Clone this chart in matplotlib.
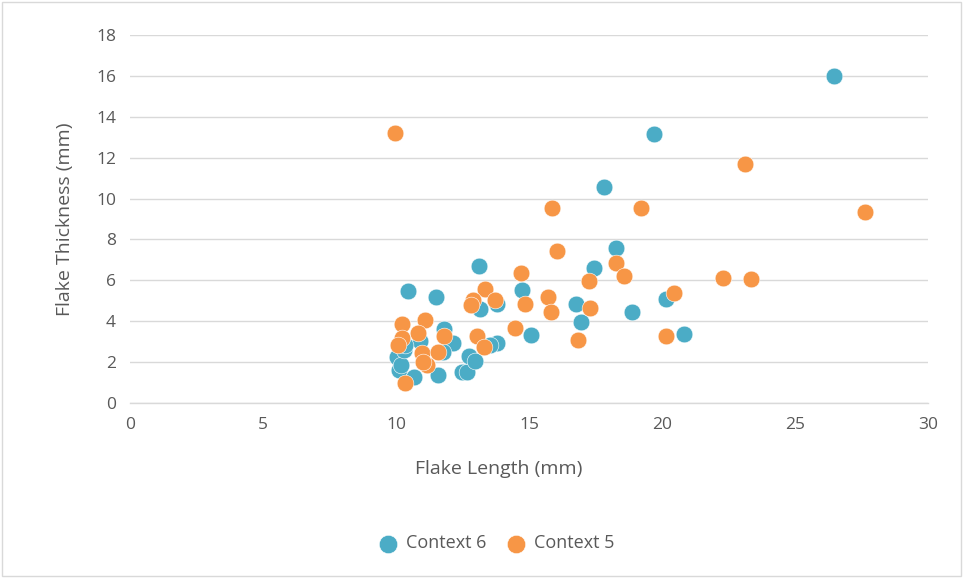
import matplotlib
matplotlib.use('Agg')
import matplotlib.pyplot as plt
from matplotlib.patches import Rectangle

plt.rcParams['font.family'] = ['Open Sans', 'DejaVu Sans']

# Context 6 (blue)
ctx6_len = [26.47, 19.7, 17.82, 18.27, 17.44, 13.12, 10.45, 11.5, 14.74, 20.15,
            16.77, 13.8, 13.16, 18.87, 16.95, 15.09, 20.83, 11.8, 13.8, 13.55,
            12.14, 10.9, 10.05, 10.1, 10.2, 10.3, 10.35, 10.68, 11.58, 12.48,
            12.67, 12.74, 12.97, 11.75]
ctx6_thk = [16.0, 13.16, 10.57, 7.58, 6.6, 6.7, 5.48, 5.19, 5.53, 5.09,
            4.84, 4.85, 4.6, 4.45, 3.96, 3.33, 3.38, 3.6, 2.94, 2.84,
            2.94, 3.05, 2.25, 1.6, 1.85, 2.6, 2.85, 1.27, 1.37, 1.52,
            1.52, 2.3, 2.05, 2.5]

# Context 5 (orange)
ctx5_len = [9.96, 23.12, 27.63, 15.86, 19.21, 16.05, 18.27, 18.57, 14.7, 22.3,
            23.35, 17.26, 20.45, 13.35, 15.71, 13.74, 12.9, 12.83, 14.85, 15.83,
            17.3, 11.1, 10.23, 14.49, 10.83, 11.8, 13.05, 10.23, 10.08, 16.84,
            20.15, 13.3, 10.98, 11.58, 11.17, 11.02, 10.34]
ctx5_thk = [13.21, 11.69, 9.34, 9.54, 9.54, 7.44, 6.85, 6.21, 6.36, 6.12,
            6.07, 5.97, 5.38, 5.6, 5.19, 5.04, 5.04, 4.79, 4.84, 4.47,
            4.65, 4.08, 3.88, 3.67, 3.4, 3.3, 3.3, 3.2, 2.82, 3.08,
            3.28, 2.74, 2.45, 2.47, 1.88, 2.0, 0.98]

x_ticks = [0, 5, 10, 15, 20, 25, 30]
y_ticks = [0, 2, 4, 6, 8, 10, 12, 14, 16, 18]

blue = '#4BACC6'
orange = '#F79646'
grey = '#595959'

fig = plt.figure(figsize=(9.65, 5.78), dpi=100)
ax = fig.add_axes([0.1347, 0.3028, 0.827, 0.6366])

ax.scatter(ctx6_len, ctx6_thk, s=145, color=blue, edgecolors='white',
           linewidths=0.4, label='Context 6', zorder=3)
ax.scatter(ctx5_len, ctx5_thk, s=145, color=orange, edgecolors='white',
           linewidths=0.4, label='Context 5', zorder=3)

ax.set_xlim(0, 30)
ax.set_ylim(0, 18)
ax.set_xticks(x_ticks)
ax.set_yticks(y_ticks)
ax.grid(axis='y', color='#D9D9D9', linewidth=1, zorder=0)
ax.set_axisbelow(True)
for s in ['top', 'right', 'left']:
    ax.spines[s].set_visible(False)
ax.spines['bottom'].set_color('#D9D9D9')
ax.spines['bottom'].set_linewidth(1)
ax.tick_params(length=0, labelsize=12.5, colors=grey, pad=10)

ax.set_xlabel('Flake Length (mm)', fontsize=14, color=grey)
ax.xaxis.set_label_coords(0.462, -0.155)
ax.set_ylabel('Flake Thickness (mm)', fontsize=14, color=grey, labelpad=16)

leg = fig.legend(loc='center', bbox_to_anchor=(0.51, 0.06), ncol=2,
                 frameon=False, fontsize=13, handletextpad=0.0,
                 columnspacing=0.6, markerscale=1.1)
for t in leg.get_texts():
    t.set_color(grey)

fig.patches.append(Rectangle((0.002, 0.003), 0.994, 0.994, transform=fig.transFigure,
                             fill=False, edgecolor='#D9D9D9', linewidth=1))

fig.savefig('out.png', dpi=100)
